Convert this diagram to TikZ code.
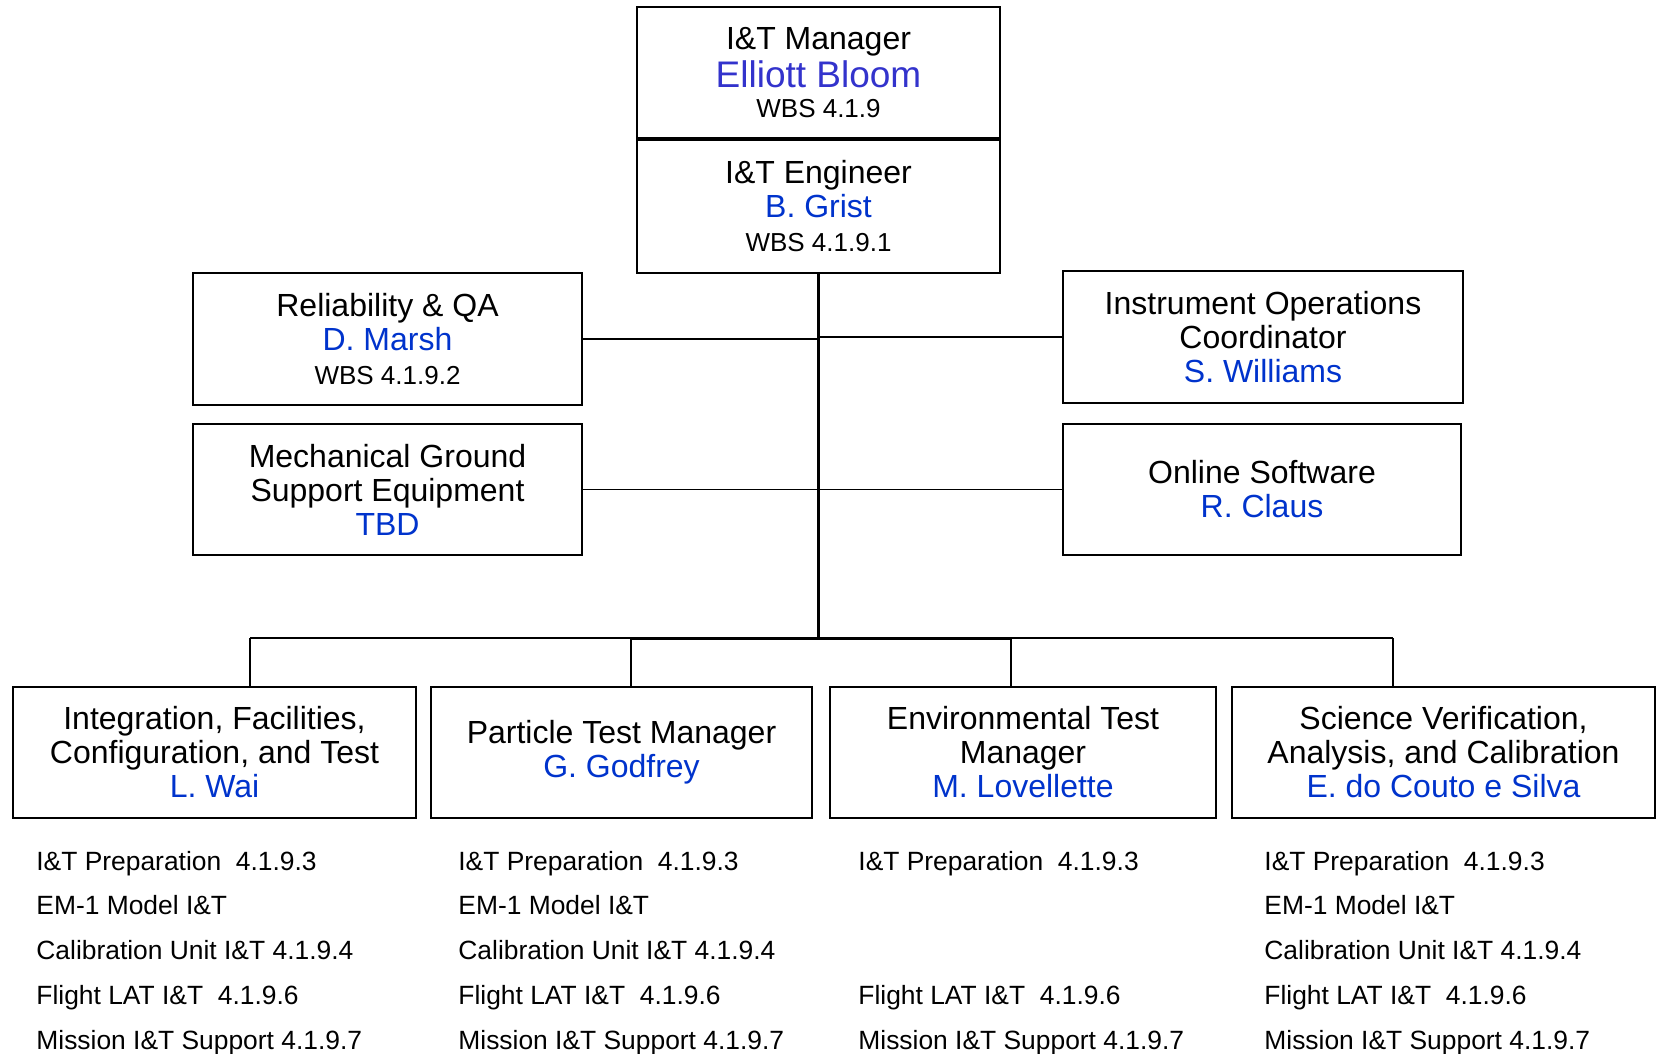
\documentclass[tikz,border=0pt]{standalone}
\usepackage{fontspec}
\setmainfont{Liberation Sans}
\usetikzlibrary{positioning}
\definecolor{namecol}{RGB}{0,51,204}
\definecolor{bosscol}{RGB}{51,51,204}
\tikzset{
  box/.style={draw, line width=1pt, align=center, inner sep=0pt, font=\fontsize{16}{17}\selectfont},
  task/.style={anchor=base west, inner sep=0pt, font=\fontsize{13.2}{15}\selectfont},
  trunk/.style={line width=1.5pt},
  branch/.style={line width=0.9pt}
}
\newcommand{\who}[1]{\textcolor{namecol}{#1}}
\newcommand{\wbs}[1]{{\fontsize{13}{15}\selectfont WBS #1}}

\begin{document}
\begin{tikzpicture}[x=0.5pt, y=-0.5pt]
        \useasboundingbox (0,0) rectangle (1657,1053);
        % top
        \node[box, minimum width=181.5pt, minimum height=65.5pt] (mgr) at (818.5,72.5)
          {I\&T Manager\\[2pt] {\fontsize{18.5}{20}\selectfont\textcolor{bosscol}{Elliott Bloom}}\\[-2pt] \wbs{4.1.9}};
        \node[box, minimum width=181.5pt, minimum height=66.5pt, below=0pt of mgr] (eng)
          {I\&T Engineer\\ \who{B. Grist}\\ \wbs{4.1.9.1}};
        % staff
        \node[box, minimum width=194.5pt, minimum height=66pt] (rqa) at (387.5,339)
          {Reliability \& QA\\ \who{D. Marsh}\\ \wbs{4.1.9.2}};
        \node[box, minimum width=194.5pt, minimum height=65.5pt] (mgse) at (387.5,489.5)
          {Mechanical Ground\\ Support Equipment\\ \who{TBD}};
        \node[box, minimum width=200pt, minimum height=66pt] (ioc) at (1263,337)
          {Instrument Operations\\ Coordinator\\ \who{S. Williams}};
        \node[box, minimum width=199pt, minimum height=65.5pt] (osw) at (1262,489.5)
          {Online Software\\ \who{R. Claus}};
        % managers
        \node[box, minimum width=201.5pt, minimum height=65.5pt] (ifct) at (214.5,752.5)
          {Integration, Facilities,\\ Configuration, and Test\\ \who{L. Wai}};
        \node[box, minimum width=190.5pt, minimum height=65.5pt] (ptm) at (621.5,752.5)
          {Particle Test Manager\\ \who{G. Godfrey}};
        \node[box, minimum width=193pt, minimum height=65.5pt] (etm) at (1023,752.5)
          {Environmental Test\\ Manager\\ \who{M. Lovellette}};
        \node[box, minimum width=211.5pt, minimum height=65.5pt] (svac) at (1443.5,752.5)
          {Science Verification,\\ Analysis, and Calibration\\ \who{E. do Couto e Silva}};
        % tasks
        \foreach \xx/\cn in {36/a, 458/b, 1264/d}
          \foreach \txt [count=\i] in {I\&T Preparation\ \ 4.1.9.3, EM-1 Model I\&T,
              Calibration Unit I\&T 4.1.9.4, Flight LAT I\&T\ \ 4.1.9.6, Mission I\&T Support 4.1.9.7}
            \node[task] (\cn\i) at (\xx,{870+44.75*(\i-1)}) {\txt};
        \node[task] (c1) at (858,870) {I\&T Preparation\ \ 4.1.9.3};
        \node[task] (c4) at (858,1004.25) {Flight LAT I\&T\ \ 4.1.9.6};
        \node[task] (c5) at (858,1049) {Mission I\&T Support 4.1.9.7};
        % lines
        \coordinate (bus) at (818.5,638);
        \coordinate (d1) at (250,638);
        \coordinate (d2) at (631,638);
        \coordinate (d3) at (1011,638);
        \coordinate (d4) at (1393,638);
        \draw[trunk] (eng.south) -- (bus);
        \draw[branch] (rqa.east) -- (rqa.east -| eng.south);
        \draw[branch] (mgse.east) -- (mgse.east -| eng.south);
        \draw[branch] (ioc.west) -- (ioc.west -| eng.south);
        \draw[branch] (osw.west) -- (osw.west -| eng.south);
        \draw[branch] (d1) -- (d4);
        \draw[trunk] (d2) -- (d3);
        \foreach \d/\b in {d1/ifct, d2/ptm, d3/etm, d4/svac}
          \draw[branch] (\d) -- (\d |- \b.north);
\end{tikzpicture}
\end{document}
